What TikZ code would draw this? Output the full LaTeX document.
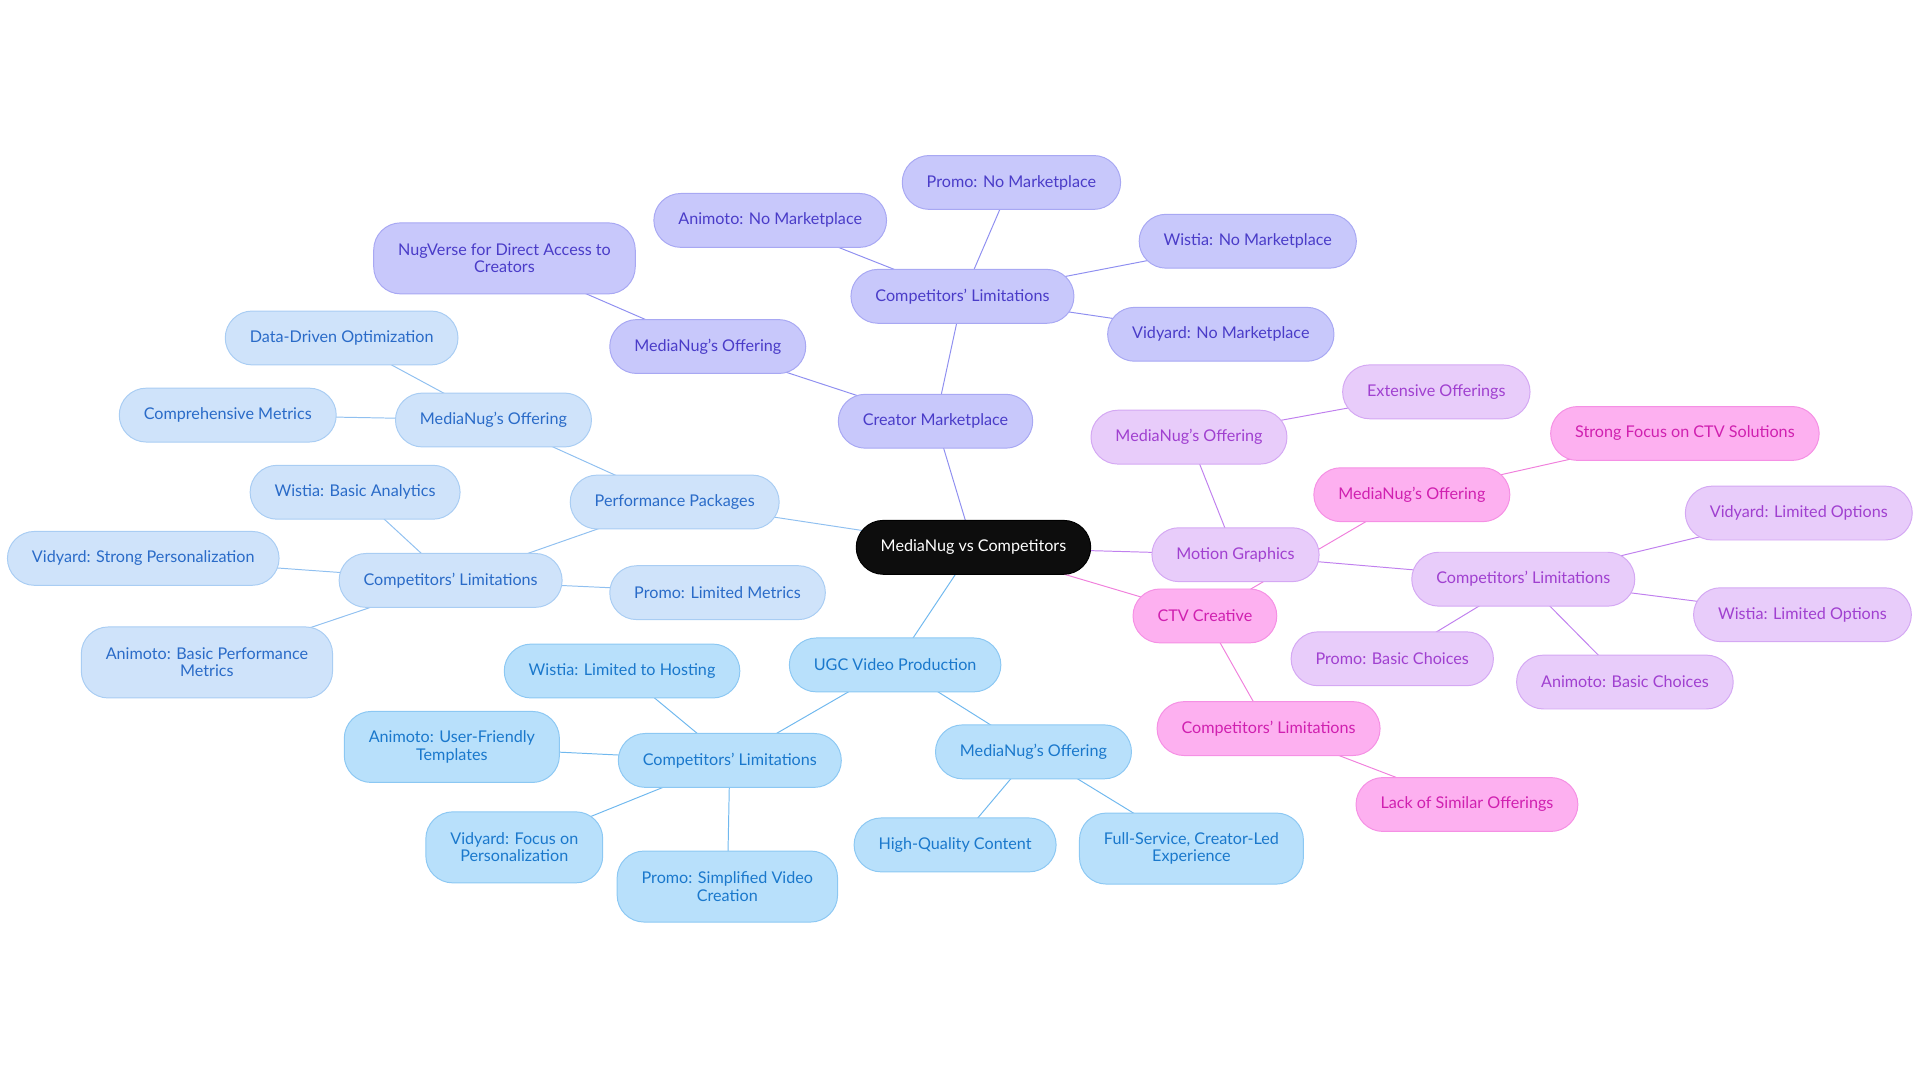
\documentclass[tikz,border=0pt]{standalone}
\usepackage{fontspec}
\setmainfont{Lato}
\usetikzlibrary{backgrounds}
\definecolor{cbF}{HTML}{CFE3FA}\definecolor{cbD}{HTML}{A9CDF3}\definecolor{cbT}{HTML}{2A6BC8}\definecolor{cbE}{HTML}{90C0F0}
\definecolor{ugF}{HTML}{B8E0FB}\definecolor{ugD}{HTML}{8CC8F3}\definecolor{ugT}{HTML}{1A78CC}\definecolor{ugE}{HTML}{70B8EE}
\definecolor{cmF}{HTML}{C8C8FB}\definecolor{cmD}{HTML}{A8A8F3}\definecolor{cmT}{HTML}{4A3CC8}\definecolor{cmE}{HTML}{8F8FF0}
\definecolor{mgF}{HTML}{E8CCFA}\definecolor{mgD}{HTML}{D4A8F3}\definecolor{mgT}{HTML}{A040D0}\definecolor{mgE}{HTML}{C080EE}
\definecolor{ctF}{HTML}{FDB0F0}\definecolor{ctD}{HTML}{F590E4}\definecolor{ctT}{HTML}{D020B0}\definecolor{ctE}{HTML}{F080DC}
\tikzset{
 box/.style={rounded corners=11pt,minimum height=22pt,inner xsep=10pt,inner ysep=2pt,align=center,font=\fontsize{6.6}{7}\selectfont,line width=0.4pt},
 bxpp/.style={box,fill=cbF,draw=cbD,text=cbT},
 bxug/.style={box,fill=ugF,draw=ugD,text=ugT},
 bxcm/.style={box,fill=cmF,draw=cmD,text=cmT},
 bxmg/.style={box,fill=mgF,draw=mgD,text=mgT},
 bxct/.style={box,fill=ctF,draw=ctD,text=ctT},
 two/.style={minimum height=29pt},
}
\begin{document}
\begin{tikzpicture}[x=0.5pt,y=-0.5pt]
\useasboundingbox (0,0) rectangle (1568,884);
\node[box,fill=black!95,text=white,draw=black] (c) at (795,447) {MediaNug vs Competitors};
\node[bxcm] (cm) at (764,344) {Creator Marketplace};
\node[bxcm] (cm1) at (578,283) {MediaNug's Offering};
\node[bxcm,two] (cm11) at (412,211) {NugVerse for Direct Access to\\Creators};
\node[bxcm] (cm2) at (786,242) {Competitors' Limitations};
\node[bxcm] (cm21) at (629,180) {Animoto: No Marketplace};
\node[bxcm] (cm22) at (826,149) {Promo: No Marketplace};
\node[bxcm] (cm23) at (1019,197) {Wistia: No Marketplace};
\node[bxcm] (cm24) at (997,273) {Vidyard: No Marketplace};
\node[bxpp] (pp) at (551,410) {Performance Packages};
\node[bxpp] (pp1) at (403,343) {MediaNug's Offering};
\node[bxpp] (pp11) at (279,276) {Data-Driven Optimization};
\node[bxpp] (pp12) at (186,339) {Comprehensive Metrics};
\node[bxpp] (pp2) at (368,474) {Competitors' Limitations};
\node[bxpp] (pp21) at (290,402) {Wistia: Basic Analytics};
\node[bxpp] (pp22) at (117,456) {Vidyard: Strong Personalization};
\node[bxpp] (pp23) at (586,484) {Promo: Limited Metrics};
\node[bxpp,two] (pp24) at (169,541) {Animoto: Basic Performance\\Metrics};
\node[bxug] (ug) at (731,543) {UGC Video Production};
\node[bxug] (ug1) at (596,621) {Competitors' Limitations};
\node[bxug] (ug11) at (508,548) {Wistia: Limited to Hosting};
\node[bxug,two] (ug12) at (369,610) {Animoto: User-Friendly\\Templates};
\node[bxug,two] (ug13) at (420,692) {Vidyard: Focus on\\Personalization};
\node[bxug,two] (ug14) at (594,724) {Promo: Simplified Video\\Creation};
\node[bxug] (ug2) at (844,614) {MediaNug's Offering};
\node[bxug] (ug21) at (780,690) {High-Quality Content};
\node[bxug,two] (ug22) at (973,693) {Full-Service, Creator-Led\\Experience};
\node[bxmg] (mg) at (1009,453) {Motion Graphics};
\node[bxmg] (mg1) at (971,357) {MediaNug's Offering};
\node[bxmg] (mg11) at (1173,320) {Extensive Offerings};
\node[bxmg] (mg2) at (1244,473) {Competitors' Limitations};
\node[bxmg] (mg21) at (1469,419) {Vidyard: Limited Options};
\node[bxmg] (mg22) at (1472,502) {Wistia: Limited Options};
\node[bxmg] (mg23) at (1327,557) {Animoto: Basic Choices};
\node[bxmg] (mg24) at (1137,538) {Promo: Basic Choices};
\node[bxct] (ct) at (984,503) {CTV Creative};
\node[bxct] (ct1) at (1153,404) {MediaNug's Offering};
\node[bxct] (ct11) at (1376,354) {Strong Focus on CTV Solutions};
\node[bxct] (ct2) at (1036,595) {Competitors' Limitations};
\node[bxct] (ct21) at (1198,657) {Lack of Similar Offerings};
\begin{pgfonlayer}{background}
\draw[cmE] (c.center)--(cm.center) (cm.center)--(cm1.center) (cm1.center)--(cm11.center) (cm.center)--(cm2.center)
 (cm2.center)--(cm21.center) (cm2.center)--(cm22.center) (cm2.center)--(cm23.center) (cm2.center)--(cm24.center);
\draw[cbE] (c.center)--(pp.center) (pp.center)--(pp1.center) (pp1.center)--(pp11.center) (pp1.center)--(pp12.center)
 (pp.center)--(pp2.center) (pp2.center)--(pp21.center) (pp2.center)--(pp22.center) (pp2.center)--(pp23.center) (pp2.center)--(pp24.center);
\draw[ugE] (c.center)--(ug.center) (ug.center)--(ug1.center) (ug1.center)--(ug11.center) (ug1.center)--(ug12.center) (ug1.center)--(ug13.center) (ug1.center)--(ug14.center)
 (ug.center)--(ug2.center) (ug2.center)--(ug21.center) (ug2.center)--(ug22.center);
\draw[mgE] (c.center)--(mg.center) (mg.center)--(mg1.center) (mg1.center)--(mg11.center) (mg.center)--(mg2.center)
 (mg2.center)--(mg21.center) (mg2.center)--(mg22.center) (mg2.center)--(mg23.center) (mg2.center)--(mg24.center);
\draw[ctE] (c.center)--(ct.center) (ct.center)--(ct1.center) (ct1.center)--(ct11.center) (ct.center)--(ct2.center) (ct2.center)--(ct21.center);
\end{pgfonlayer}
\end{tikzpicture}
\end{document}
